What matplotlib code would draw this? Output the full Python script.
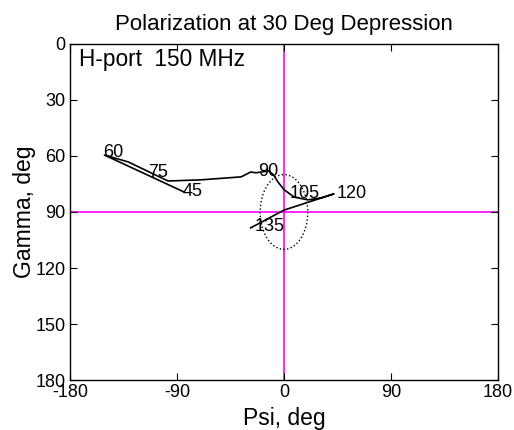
import matplotlib
matplotlib.use("Agg")
import matplotlib.pyplot as plt
import numpy as np

plt.rcParams['font.family'] = ['Liberation Sans', 'DejaVu Sans']
plt.rcParams['axes.unicode_minus'] = False

# polarization trace (psi, gamma) in degrees
psi = [-84, -151, -131, -97.5, -70, -36, -28, -23.5, -12.6, -9, -5, 0, 8.4, 20, 31, 42, 0, -28]
gamma = [79.3, 59.5, 63.2, 73.4, 72.8, 71.2, 68.6, 69, 68, 70, 74, 78, 82, 83.5, 82.5, 80.3, 89, 98.5]

# angle labels and where they sit
lab_txt = ['60', '75', '45', '90', '105', '120', '135']
lab_psi = [-152, -114, -85, -22, 5, 44.5, -25]
lab_gam = [58, 69, 79, 68.5, 80, 80, 97.5]

# dotted reference circle
circ_r = 20
circ_c = (0, 90)

fig = plt.figure(figsize=(5.14, 4.30), dpi=100)
ax = fig.add_axes([0.136, 0.116, 0.833, 0.782])

ax.axvline(0, color='#ff00ff', lw=1.2, zorder=1)
ax.axhline(90, color='#ff00ff', lw=1.2, zorder=1)

ax.plot(psi, gamma, color='black', lw=1.2, zorder=3)

t = np.linspace(0, 2 * np.pi, 200)
ax.plot(circ_c[0] + circ_r * np.cos(t), circ_c[1] + circ_r * np.sin(t),
        color='black', ls=':', lw=1.0, zorder=2)

for s, x, y in zip(lab_txt, lab_psi, lab_gam):
    ax.text(x, y, s, fontsize=13, ha='left', va='center', zorder=4)

ax.text(-172, 8.5, 'H-port  150 MHz', fontsize=16.3, ha='left', va='center')

ax.set_xlim(-180, 180)
ax.set_ylim(180, 0)
ax.set_xticks([-180, -90, 0, 90, 180])
ax.set_yticks([0, 30, 60, 90, 120, 150, 180])
ax.tick_params(direction='in', top=True, right=True, labelsize=13, length=5, pad=3)
for sp in ax.spines.values():
    sp.set_linewidth(1.0)

ax.set_title('Polarization at 30 Deg Depression', fontsize=16, pad=10)
ax.set_xlabel('Psi, deg', fontsize=16.5, labelpad=4)
ax.set_ylabel('Gamma, deg', fontsize=16.5, labelpad=0)

fig.savefig('out.png', dpi=100)
